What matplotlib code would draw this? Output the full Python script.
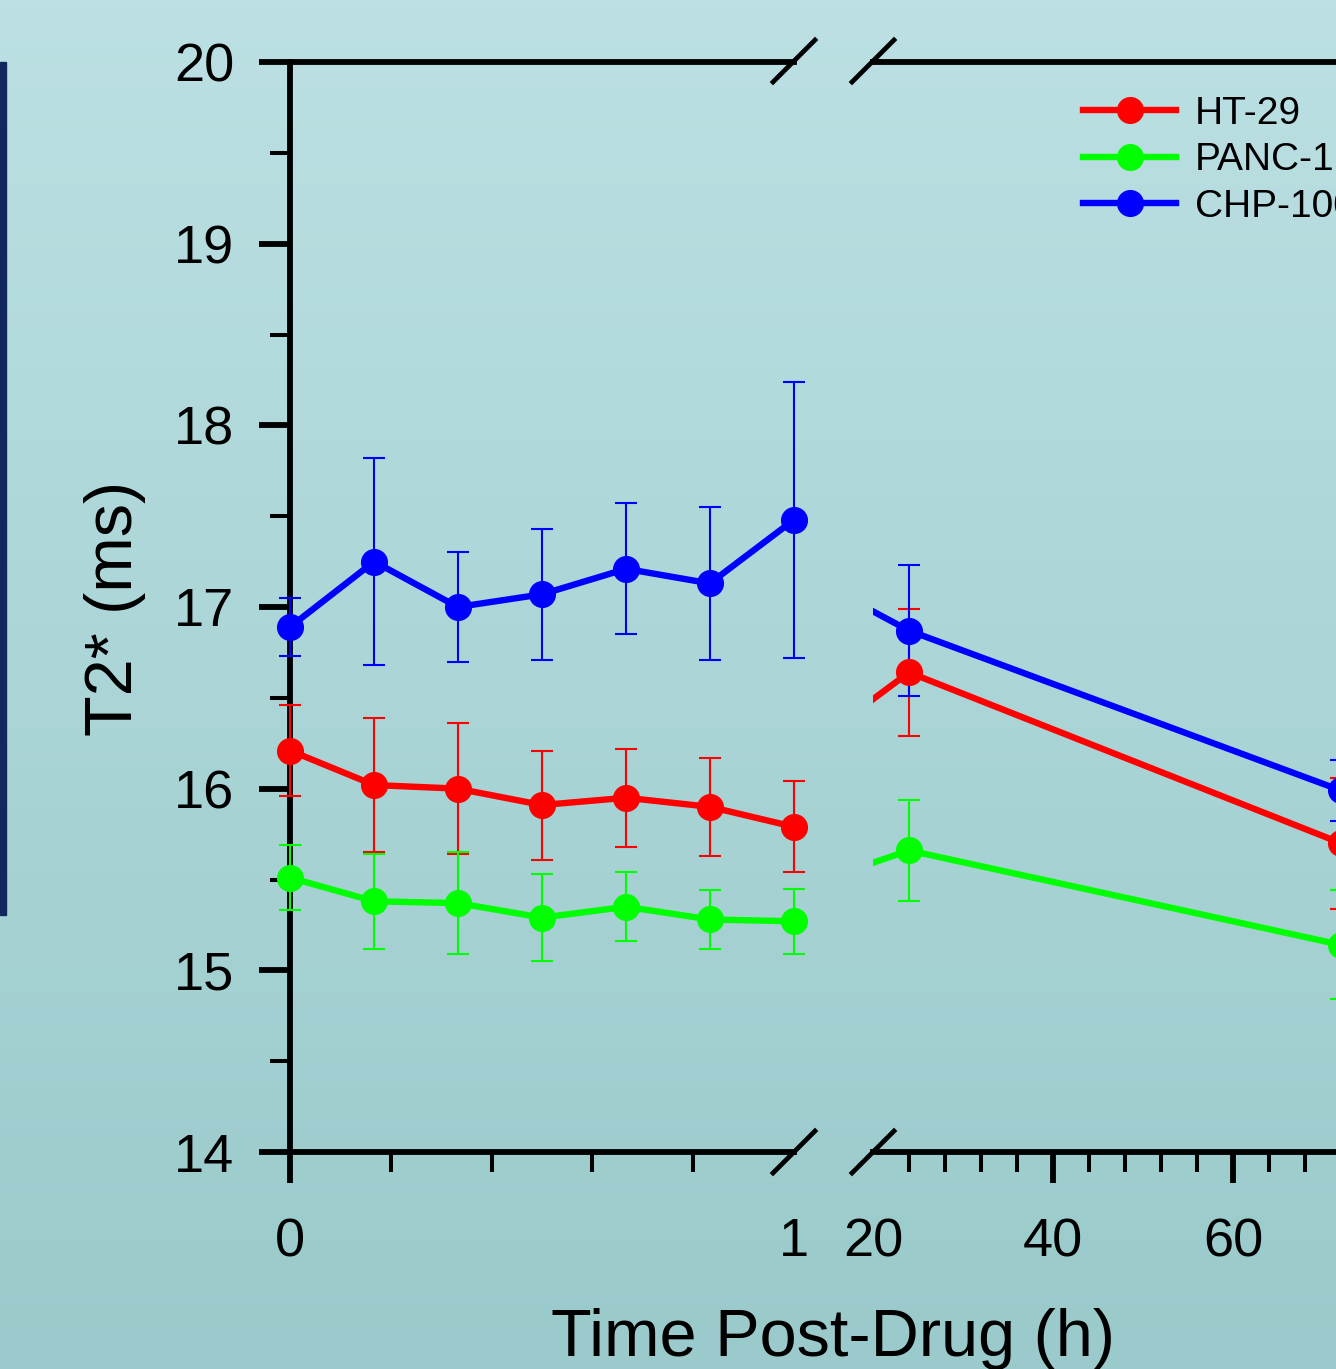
import numpy as np
import matplotlib
matplotlib.use("Agg")
import matplotlib.pyplot as plt
from matplotlib.lines import Line2D
from matplotlib.patches import Rectangle

plt.rcParams.update({
    "font.family": ["Liberation Sans", "DejaVu Sans"],
})

# ── data ────────────────────────────────────────────
time_h = [0, 0.167, 0.333, 0.5, 0.667, 0.833, 1, 24, 72]
ht29 = [16.21, 16.02, 16.00, 15.91, 15.95, 15.90, 15.79, 16.64, 15.70]
ht29_err = [0.25, 0.37, 0.36, 0.30, 0.27, 0.27, 0.25, 0.35, 0.36]
panc1 = [15.51, 15.38, 15.37, 15.29, 15.35, 15.28, 15.27, 15.66, 15.14]
panc1_err = [0.18, 0.26, 0.28, 0.24, 0.19, 0.16, 0.18, 0.28, 0.30]
chp100 = [16.89, 17.25, 17.00, 17.07, 17.21, 17.13, 17.48, 16.87, 15.99]
chp100_err = [0.16, 0.57, 0.30, 0.36, 0.36, 0.42, 0.76, 0.36, 0.17]

series = [
    ("HT-29", ht29, ht29_err, "#FF0000"),
    ("PANC-1", panc1, panc1_err, "#00FF00"),
    ("CHP-100", chp100, chp100_err, "#0000FF"),
]

y_ticks = [14, 15, 16, 17, 18, 19, 20]
y_minor = [14.5, 15.5, 16.5, 17.5, 18.5, 19.5]
left_ticks = [0, 1]
left_minor = [0.2, 0.4, 0.6, 0.8]
right_ticks = [20, 40, 60]
right_minor = [24, 28, 32, 36, 44, 48, 52, 56, 64, 68, 72, 76]

W, H = 1336, 1369
fig = plt.figure(figsize=(W / 100, H / 100), dpi=100)


def fx(x):
    return x / W


def fy(y):
    return 1 - y / H


# ── background gradient ─────────────────────────────
bg = fig.add_axes([0, 0, 1, 1])
bg.set_zorder(-5)
top = np.array([188, 224, 227]) / 255
bot = np.array([154, 202, 203]) / 255
grad = np.linspace(0, 1, 256)[:, None, None]
img = top * (1 - grad) + bot * grad
bg.imshow(np.repeat(img, 2, axis=1), aspect="auto", extent=[0, 1, 0, 1])
bg.axis("off")
fig.patches.append(Rectangle((0, fy(915)), fx(6), fy(62) - fy(915),
                             transform=fig.transFigure, color="#13275F"))

ax_top, ax_bot = 62, 1152
axL = fig.add_axes([fx(290), fy(ax_bot), fx(794) - fx(290), fy(ax_top) - fy(ax_bot)])
axR = fig.add_axes([fx(873), fy(ax_bot), 540 / W, fy(ax_top) - fy(ax_bot)])

SPW = 4.2
for ax in (axL, axR):
    ax.patch.set_visible(False)
    ax.set_ylim(14, 20)
    for s in ax.spines.values():
        s.set_linewidth(SPW)
        s.set_capstyle("projecting")
    ax.spines["right"].set_visible(False)
    ax.tick_params(axis="both", which="major", direction="out", length=22, width=4.2,
                   labelsize=39, pad=26)
    ax.tick_params(axis="both", which="minor", direction="out", length=14.5, width=2.9)
    ax.tick_params(axis="x", which="major", pad=25)

axR.spines["left"].set_visible(False)
axR.tick_params(axis="y", which="both", left=False, labelleft=False)

axL.set_xlim(0, 1)
axL.set_xticks(left_ticks)
axL.set_xticklabels(["0", "1"])
axL.set_xticks(left_minor, minor=True)
axL.xaxis.get_major_ticks()[1].tick1line.set_visible(False)
axL.set_yticks(y_ticks)
axL.set_yticks(y_minor, minor=True)
axL.tick_params(axis="y", which="major", pad=18)

axR.set_xlim(20, 80)
axR.set_xticks(right_ticks)
axR.set_xticks(right_minor, minor=True)
axR.xaxis.get_major_ticks()[0].tick1line.set_visible(False)

LW, MS = 4.6, 18.5
handles = []
for name, vals, err, col in series:
    axL.errorbar(time_h[:7], vals[:7], yerr=err[:7], color=col, lw=LW, marker="o",
                 ms=MS, elinewidth=1.5, capsize=8, capthick=1.5, clip_on=False, zorder=5)
    axR.errorbar(time_h[6:], vals[6:], yerr=err[6:], color=col, lw=LW, marker="o",
                 ms=MS, elinewidth=1.5, capsize=8, capthick=1.5, zorder=5)
    handles.append(Line2D([], [], color=col, lw=LW, marker="o", ms=MS, label=name))

# break marks
for xc in (794, 873):
    for yc in (61, 1152):
        fig.add_artist(Line2D([fx(xc - 21), fx(xc + 21)], [fy(yc + 21), fy(yc - 21)],
                              color="black", lw=3.4, transform=fig.transFigure))

leg = fig.legend(handles=handles, loc="upper left", bbox_to_anchor=(fx(1083), fy(96)),
                 frameon=False, fontsize=28, handlelength=2.4, handletextpad=0.48,
                 labelspacing=0.27, borderpad=0, borderaxespad=0, numpoints=1)

fig.text(fx(115), fy(608), "T2* (ms)", rotation=90, ha="center", va="center", fontsize=48)
fig.text(fx(833), fy(1356), "Time Post-Drug (h)", ha="center", va="baseline", fontsize=48)

fig.savefig("out.png", dpi=100)
